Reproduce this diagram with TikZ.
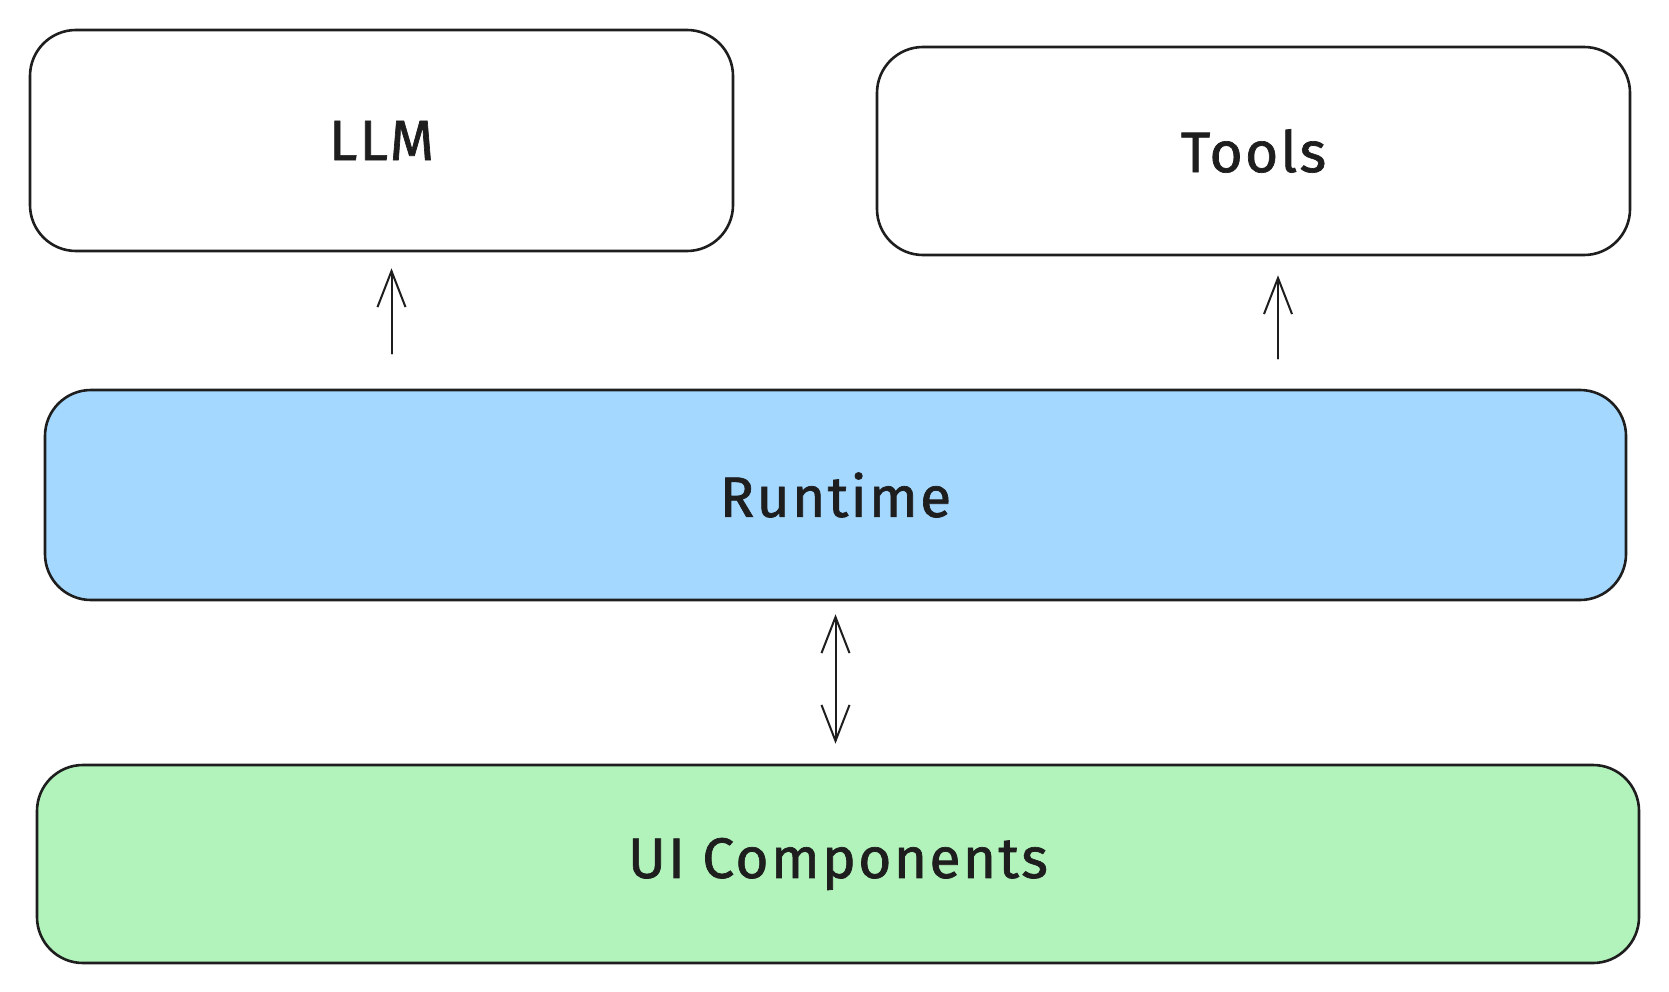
\documentclass[tikz,border=0pt]{standalone}
\usepackage{fontspec}
\setmainfont{Fira Sans}
\newfontfamily\lab{Fira Sans}[FakeBold=1.2, LetterSpace=4]
\usetikzlibrary{arrows.meta}
\definecolor{ink}{HTML}{1E1E1E}
\definecolor{bluefill}{HTML}{A5D8FF}
\definecolor{greenfill}{HTML}{B2F2BB}
\tikzset{
  box/.style={draw=ink, line width=2.6pt, rounded corners=46pt, inner sep=0pt,
    font=\lab\fontsize{57}{62}\selectfont, text=ink},
  arr/.style={draw=ink, line width=2pt, line cap=round,
    -{Straight Barb[length=36pt,width=28pt,line width=2pt]}},
  darr/.style={draw=ink, line width=2pt, line cap=round,
    {Straight Barb[length=36pt,width=28pt,line width=2pt]}-{Straight Barb[length=36pt,width=28pt,line width=2pt]}}
}
\begin{document}
\begin{tikzpicture}[x=1pt,y=-1pt]
\useasboundingbox[fill=white] (0,0) rectangle (1669,992);
\node[box, fill=white, minimum width=703pt, minimum height=221pt] (llm) at (381.5,140.5) {LLM};
\node[box, fill=white, minimum width=753pt, minimum height=208pt] (tools) at (1253.5,151) {Tools};
\node[box, fill=bluefill, minimum width=1581pt, minimum height=210pt] (rt) at (835.5,495) {Runtime};
\node[box, fill=greenfill, minimum width=1602pt, minimum height=198pt] (ui) at (838,864) {UI Components};
\draw[arr, shorten <=35pt, shorten >=16pt] ([xshift=10pt]llm.south |- rt.north) -- ([xshift=10pt]llm.south);
\draw[arr, shorten <=30pt, shorten >=19pt] ([xshift=24.5pt]tools.south |- rt.north) -- ([xshift=24.5pt]tools.south);
\draw[darr, shorten <=13pt, shorten >=20pt] (rt.south) -- (rt.south |- ui.north);
\end{tikzpicture}
\end{document}
